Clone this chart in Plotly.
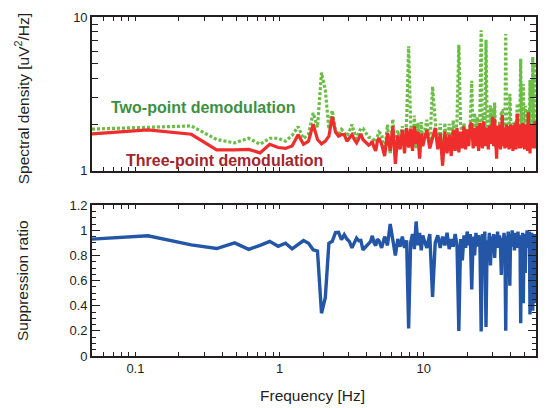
import plotly.graph_objects as go

# ---------------- data ----------------
freq_low = [0.05, 0.122, 0.244, 0.366, 0.488, 0.610, 0.732, 0.854, 0.977, 1.099,
            1.221, 1.343, 1.465, 1.587, 1.709, 1.831, 1.953, 2.075, 2.197, 2.319,
            2.441, 2.563, 2.686, 2.808, 2.930, 3.052, 3.174, 3.296, 3.418, 3.540,
            3.662, 3.784, 3.906, 4.028, 4.150, 4.272, 4.395, 4.517, 4.639, 4.761, 4.883]
freq_mid = [5.1, 5.35, 5.6, 5.85, 6.1, 6.35, 6.6, 6.85, 7.1, 7.35,
            7.6, 7.85, 8.1, 8.35, 8.6, 8.85, 9.1, 9.35, 9.6, 9.85]
freq_high = [10.0, 10.5, 11.0, 11.5, 12.0, 12.5, 13.0, 13.5, 14.0, 14.5,
             15.0, 15.5, 16.0, 16.5, 17.0, 17.5, 18.0, 18.5, 19.0, 19.5,
             20.0, 20.5, 21.0, 21.5, 22.0, 22.5, 23.0, 23.5, 24.0, 24.5,
             25.0, 25.5, 26.0, 26.5, 27.0, 27.5, 28.0, 28.5, 29.0, 29.5,
             30.0, 30.5, 31.0, 31.5, 32.0, 32.5, 33.0, 33.5, 34.0, 34.5,
             35.0, 35.5, 36.0, 36.5, 37.0, 37.5, 38.0, 38.5, 39.0, 39.5,
             40.0, 40.5, 41.0, 41.5, 42.0, 42.5, 43.0, 43.5, 44.0, 44.5,
             45.0, 45.5, 46.0, 46.5, 47.0, 47.5, 48.0, 48.5, 49.0, 49.5,
             50.0, 50.5, 51.0, 51.5, 52.0, 52.5, 53.0, 53.5, 54.0, 54.5,
             55.0, 55.5, 56.0, 56.5, 57.0, 57.5, 58.0, 58.5, 59.0, 59.5, 60.0]

two_point_low = [1.87, 1.93, 1.96, 1.60, 1.52, 1.63, 1.49, 1.63, 1.63, 1.56,
                 1.70, 1.94, 1.62, 1.74, 2.38, 1.92, 4.35, 3.35, 1.87, 2.47,
                 1.82, 1.71, 1.86, 1.78, 1.68, 1.81, 2.00, 1.78, 1.62, 1.77,
                 1.89, 1.89, 1.81, 1.74, 1.65, 1.65, 1.63, 1.58, 1.54, 1.67, 1.79]
two_point_mid = [1.73, 1.32, 2.00, 1.29, 2.17, 1.39, 1.83, 1.59, 1.95, 1.51,
                 2.07, 6.45, 2.09, 1.39, 2.29, 1.40, 2.05, 1.22, 2.08, 1.51]
two_point_high = [1.67, 2.15, 1.44, 3.53, 2.11, 1.44, 2.03, 1.14, 2.05, 1.33,
                  2.02, 1.34, 2.13, 1.39, 2.16, 6.60, 1.94, 1.84, 2.03, 1.60,
                  1.87, 1.65, 2.06, 3.85, 1.47, 2.38, 1.48, 2.24, 1.41, 2.28,
                  8.20, 1.44, 2.38, 1.46, 7.10, 2.07, 1.62, 1.99, 2.67, 1.58,
                  2.56, 1.49, 2.78, 1.46, 1.38, 1.97, 1.65, 2.08, 1.57, 2.45,
                  2.46, 1.69, 1.94, 1.56, 7.76, 2.11, 1.63, 1.97, 1.57, 3.17,
                  2.06, 1.61, 1.90, 1.53, 2.06, 1.73, 2.09, 1.55, 2.00, 2.74,
                  1.46, 2.22, 1.47, 2.22, 5.35, 1.98, 1.63, 2.09, 3.67, 2.05,
                  1.59, 2.65, 2.06, 1.65, 1.95, 1.57, 2.50, 1.65, 1.97, 3.90,
                  2.00, 1.61, 2.04, 1.65, 5.50, 1.53, 2.33, 1.44, 5.00, 2.04, 1.83]

three_point_low = [1.74, 1.85, 1.73, 1.37, 1.37, 1.38, 1.31, 1.49, 1.42, 1.40,
                   1.45, 1.72, 1.49, 1.56, 2.01, 1.60, 1.50, 1.56, 1.68, 2.25,
                   1.79, 1.68, 1.72, 1.72, 1.56, 1.65, 1.72, 1.60, 1.52, 1.62,
                   1.74, 1.60, 1.56, 1.52, 1.47, 1.50, 1.56, 1.42, 1.35, 1.55, 1.64]
three_point_mid = [1.49, 1.25, 1.76, 1.35, 1.95, 1.11, 1.70, 1.38, 1.85, 1.30,
                   1.90, 1.42, 1.88, 1.35, 1.95, 1.50, 1.80, 1.20, 1.75, 1.45]
three_point_high = [1.55, 1.85, 1.40, 1.66, 1.90, 1.38, 1.75, 1.08, 1.80, 1.30,
                    1.72, 1.25, 1.85, 1.35, 1.90, 1.32, 1.80, 1.40, 1.95, 1.38,
                    1.85, 1.45, 2.00, 2.04, 1.40, 1.90, 1.45, 1.95, 1.35, 2.05,
                    1.60, 1.40, 2.09, 1.45, 1.63, 1.90, 1.38, 1.95, 1.92, 1.50,
                    2.25, 1.45, 2.17, 1.40, 1.20, 1.95, 1.42, 2.00, 1.38, 1.58,
                    2.31, 1.45, 1.90, 1.40, 1.55, 2.00, 1.42, 1.95, 1.38, 1.78,
                    2.00, 1.40, 1.90, 1.35, 1.98, 1.45, 2.05, 1.38, 1.92, 2.36,
                    1.45, 1.95, 1.40, 2.00, 1.40, 1.90, 1.42, 2.05, 1.54, 1.95,
                    1.38, 1.75, 2.00, 1.45, 1.95, 1.35, 2.40, 1.45, 1.95, 1.30,
                    1.90, 1.40, 2.00, 1.45, 1.98, 1.45, 2.00, 1.40, 2.10, 1.45, 1.65]

ratio_low = [0.93, 0.956, 0.884, 0.855, 0.90, 0.848, 0.88, 0.912, 0.873, 0.897,
             0.852, 0.885, 0.918, 0.897, 0.845, 0.835, 0.34, 0.465, 0.897, 0.912,
             0.982, 0.984, 0.925, 0.965, 0.93, 0.91, 0.86, 0.90, 0.938, 0.917,
             0.92, 0.845, 0.86, 0.875, 0.89, 0.91, 0.956, 0.90, 0.878, 0.93, 0.917]
ratio_mid = [0.86, 0.95, 0.88, 1.05, 0.90, 0.80, 0.93, 0.87, 0.95, 0.86,
             0.92, 0.22, 0.90, 0.97, 0.85, 1.07, 0.88, 0.98, 0.84, 0.96]
ratio_high = [0.93, 0.86, 0.97, 0.47, 0.90, 0.96, 0.86, 0.95, 0.88, 0.98,
              0.85, 0.93, 0.87, 0.97, 0.88, 0.20, 0.93, 0.76, 0.96, 0.86,
              0.99, 0.88, 0.97, 0.53, 0.95, 0.80, 0.98, 0.87, 0.96, 0.90,
              0.195, 0.97, 0.88, 0.99, 0.23, 0.92, 0.85, 0.98, 0.72, 0.95,
              0.88, 0.97, 0.78, 0.96, 0.87, 0.99, 0.86, 0.96, 0.88, 0.645,
              0.94, 0.86, 0.98, 0.90, 0.20, 0.95, 0.87, 0.99, 0.88, 0.56,
              0.97, 0.87, 1.00, 0.88, 0.96, 0.84, 0.98, 0.89, 0.96, 0.86,
              0.99, 0.88, 0.95, 0.90, 0.26, 0.96, 0.87, 0.98, 0.42, 0.95,
              0.87, 0.66, 0.97, 0.88, 1.00, 0.86, 0.96, 0.88, 0.99, 0.33,
              0.95, 0.87, 0.98, 0.88, 0.36, 0.95, 0.86, 0.97, 0.42, 0.71, 0.90]

freq = freq_low + freq_mid + freq_high
two_point = two_point_low + two_point_mid + two_point_high
three_point = three_point_low + three_point_mid + three_point_high
ratio = ratio_low + ratio_mid + ratio_high

# tick positions (labelled decades plus unlabelled intermediate ticks)
x_ticks = [0.06, 0.07, 0.08, 0.09, 0.1, 0.2, 0.3, 0.4, 0.5, 0.6, 0.7, 0.8, 0.9,
           1, 2, 3, 4, 5, 6, 7, 8, 9, 10, 20, 30, 40, 50]
x_tick_text = ["", "", "", "", "0.1", "", "", "", "", "", "", "", "",
               "1", "", "", "", "", "", "", "", "", "10", "", "", "", ""]
y_ticks = [1, 2, 3, 4, 5, 6, 7, 8, 9, 10]
y_tick_text = ["1", "", "", "", "", "", "", "", "", "10"]

# ---------------- figure ----------------
FONT = "Liberation Sans, Arial, Helvetica, sans-serif"
AX = "#231f20"
GREEN = "#6cbd45"
RED = "#ee2d2c"
BLUE = "#2356a6"

fig = go.Figure()
fig.add_trace(go.Scatter(x=freq, y=two_point, mode="lines", xaxis="x", yaxis="y",
                         line=dict(color=GREEN, width=3.2, dash="3px,2px"),
                         name="Two-point demodulation"))
fig.add_trace(go.Scatter(x=freq, y=three_point, mode="lines", xaxis="x", yaxis="y",
                         line=dict(color=RED, width=3.2),
                         name="Three-point demodulation"))
fig.add_trace(go.Scatter(x=freq, y=ratio, mode="lines", xaxis="x2", yaxis="y2",
                         line=dict(color=BLUE, width=3.4),
                         name="Suppression ratio"))

common_x = dict(type="log", range=[-1.30103, 1.778151], showline=True, linecolor=AX,
                linewidth=1.6, mirror="ticks", ticks="inside", ticklen=4, tickwidth=1.1,
                tickcolor=AX, tickmode="array", tickvals=x_ticks, ticktext=x_tick_text,
                showgrid=False, zeroline=False,
                tickfont=dict(family=FONT, size=13, color=AX))

fig.update_layout(
    width=548, height=408,
    margin=dict(l=92, r=11, t=10, b=52),
    paper_bgcolor="white", plot_bgcolor="white",
    showlegend=False,
    font=dict(family=FONT, color=AX),
    xaxis=dict(common_x, domain=[0, 1], anchor="y", showticklabels=False),
    xaxis2=dict(common_x, domain=[0, 1], anchor="y2", matches="x"),
    yaxis=dict(type="log", range=[0, 1], domain=[0.546, 1], anchor="x",
               showline=True, linecolor=AX, linewidth=1.6, mirror="ticks",
               ticks="inside", ticklen=6, tickwidth=1.1, tickcolor=AX,
               tickmode="array", tickvals=y_ticks, ticktext=y_tick_text,
               showgrid=False, zeroline=False,
               tickfont=dict(family=FONT, size=13, color=AX)),
    yaxis2=dict(range=[0, 1.2], domain=[0, 0.445], anchor="x2",
                showline=True, linecolor=AX, linewidth=1.6, mirror="ticks",
                ticks="inside", ticklen=8, tickwidth=1.2, tickcolor=AX,
                dtick=0.2, tick0=0, showgrid=False, zeroline=False,
                minor=dict(ticks="inside", ticklen=4, tickwidth=1, tickcolor=AX,
                           dtick=0.05, showgrid=False),
                tickfont=dict(family=FONT, size=13, color=AX)),
    annotations=[
        dict(text="<b>Two-point demodulation</b>", xref="paper", yref="paper",
             x=0.038, y=0.734, xanchor="left", yanchor="middle", showarrow=False,
             font=dict(family=FONT, size=16, color="#3c9140")),
        dict(text="<b>Three-point demodulation</b>", xref="paper", yref="paper",
             x=0.072, y=0.578, xanchor="left", yanchor="middle", showarrow=False,
             font=dict(family=FONT, size=16, color="#a3262b")),
        dict(text="Spectral density [uV<sup>2</sup>/Hz]", xref="paper", yref="paper",
             x=-0.157, y=0.758, xanchor="center", yanchor="middle", textangle=-90,
             showarrow=False, font=dict(family=FONT, size=15.5, color=AX)),
        dict(text="Suppression ratio", xref="paper", yref="paper",
             x=-0.157, y=0.222, xanchor="center", yanchor="middle", textangle=-90,
             showarrow=False, font=dict(family=FONT, size=15.5, color=AX)),
        dict(text="Frequency [Hz]", xref="paper", yref="paper",
             x=0.497, y=-0.116, xanchor="center", yanchor="middle",
             showarrow=False, font=dict(family=FONT, size=15.5, color=AX)),
    ],
)

fig.write_html("out.html", config={"displayModeBar": False},
               post_script="document.body.style.margin='0';document.body.style.overflow='hidden';")
